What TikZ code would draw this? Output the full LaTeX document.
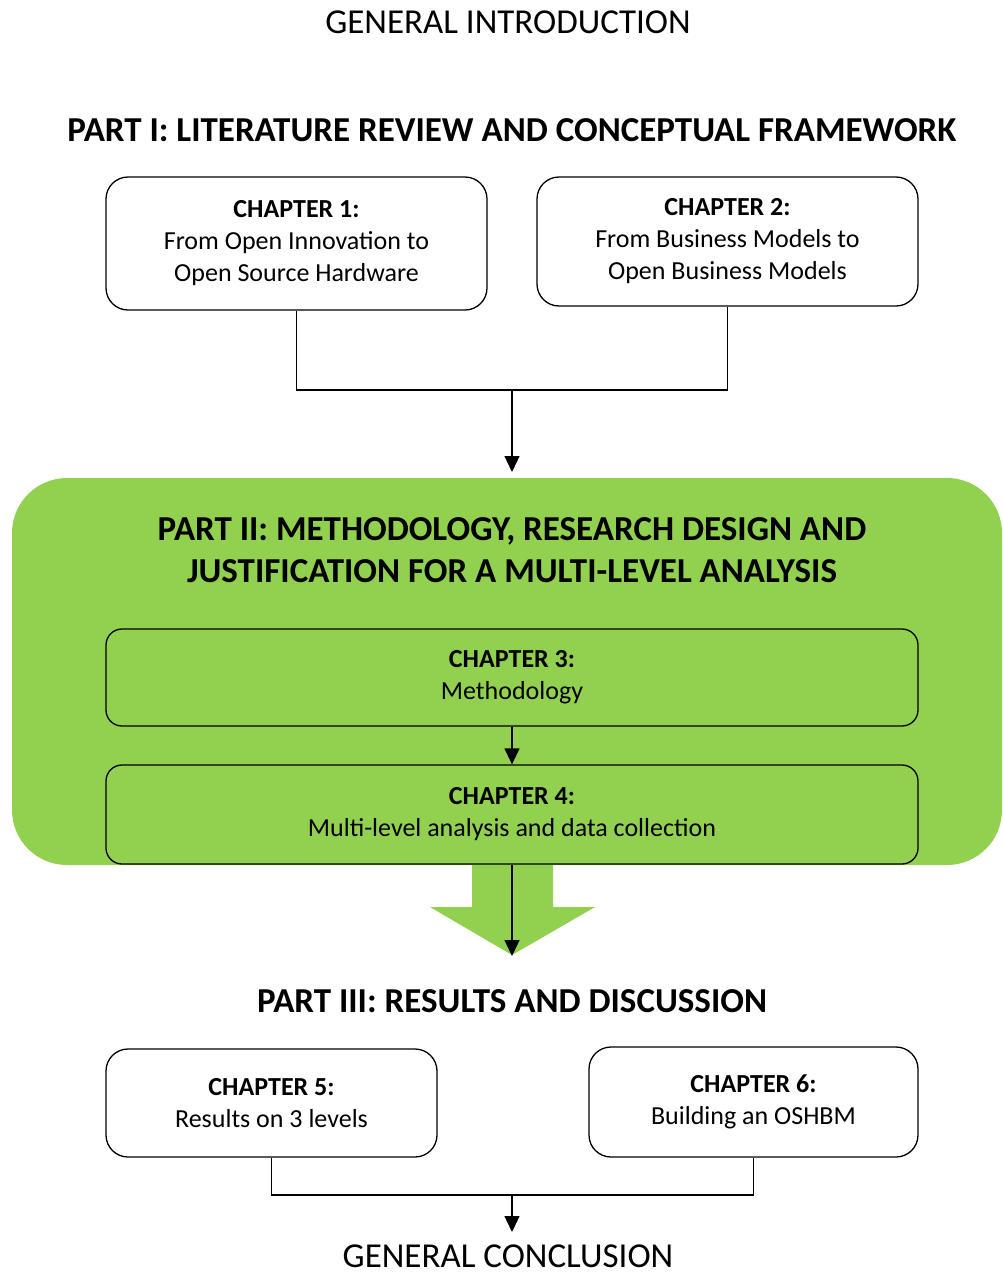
\documentclass[tikz,border=0pt]{standalone}
\usepackage{fontspec}
\setmainfont{Carlito}
\usetikzlibrary{arrows.meta}
\definecolor{leaf}{HTML}{92D050}
\begin{document}
\begin{tikzpicture}[x=1pt,y=-1pt,
  chap/.style={draw=black,line width=1.3pt,rounded corners=22pt,align=center,font=\fontsize{26}{32}\selectfont,inner sep=0pt},
  inner/.style={chap,fill=leaf,rounded corners=16pt},
  parttitle/.style={font=\fontsize{35}{42}\selectfont\bfseries,align=center,inner sep=0pt},
  plain/.style={font=\fontsize{35}{40}\selectfont,inner sep=0pt},
  conn/.style={line width=1.3pt},
  arr/.style={conn,-{Triangle[length=16pt,width=15pt]}}]
\useasboundingbox (0,0) rectangle (1002,1277);
\node[plain,anchor=base] (intro) at (508,33) {GENERAL INTRODUCTION};
\node[parttitle,anchor=base] (p1) at (512,141) {PART I: LITERATURE REVIEW AND CONCEPTUAL FRAMEWORK};
\node[chap,minimum width=381pt,minimum height=133pt] (c1) at (296.5,243.5) {\textbf{CHAPTER 1:}\\From Open Innovation to\\Open Source Hardware};
\node[chap,minimum width=381pt,minimum height=129pt] (c2) at (727.5,241.5) {\textbf{CHAPTER 2:}\\From Business Models to\\Open Business Models};
\coordinate (j1) at (512,390);
\draw[conn] (c1.south) |- (j1) -| (c2.south);
% green panel
\fill[leaf,rounded corners=55pt] (12,478) rectangle (1002,865);
\coordinate (p2top) at (512,472);
\draw[arr] (j1) -- (p2top);
\node[parttitle,anchor=base] (p2a) at (512,540) {PART II: METHODOLOGY, RESEARCH DESIGN AND};
\node[parttitle,anchor=base] (p2b) at (512,582) {JUSTIFICATION FOR A MULTI-LEVEL ANALYSIS};
\node[inner,minimum width=812pt,minimum height=97pt] (c3) at (512,677.5) {\textbf{CHAPTER 3:}\\Methodology};
\node[inner,minimum width=812pt,minimum height=99pt] (c4) at (512,814.5) {\textbf{CHAPTER 4:}\\Multi-level analysis and data collection};
\draw[arr] (c3.south) -- (c4.north);
% big green arrow
\fill[leaf] (472,865) -- (553,865) -- (553,907) -- (595,907) -- (512,955) -- (430,907) -- (472,907) -- cycle;
\coordinate (tip) at (512,956);
\draw[arr] (c4.south) -- (tip);
\node[parttitle,anchor=base] (p3) at (512,1012) {PART III: RESULTS AND DISCUSSION};
\node[chap,minimum width=331pt,minimum height=108pt] (c5) at (271.5,1103) {\textbf{CHAPTER 5:}\\Results on 3 levels};
\node[chap,minimum width=329pt,minimum height=110pt] (c6) at (753.5,1102) {\textbf{CHAPTER 6:}\\Building an OSHBM};
\coordinate (j2) at (512,1195);
\draw[conn] (c5.south) |- (j2) -| (c6.south);
\node[plain,anchor=base] (concl) at (508,1267) {GENERAL CONCLUSION};
\coordinate (cend) at (512,1232);
\draw[arr] (j2) -- (cend);
\end{tikzpicture}
\end{document}
